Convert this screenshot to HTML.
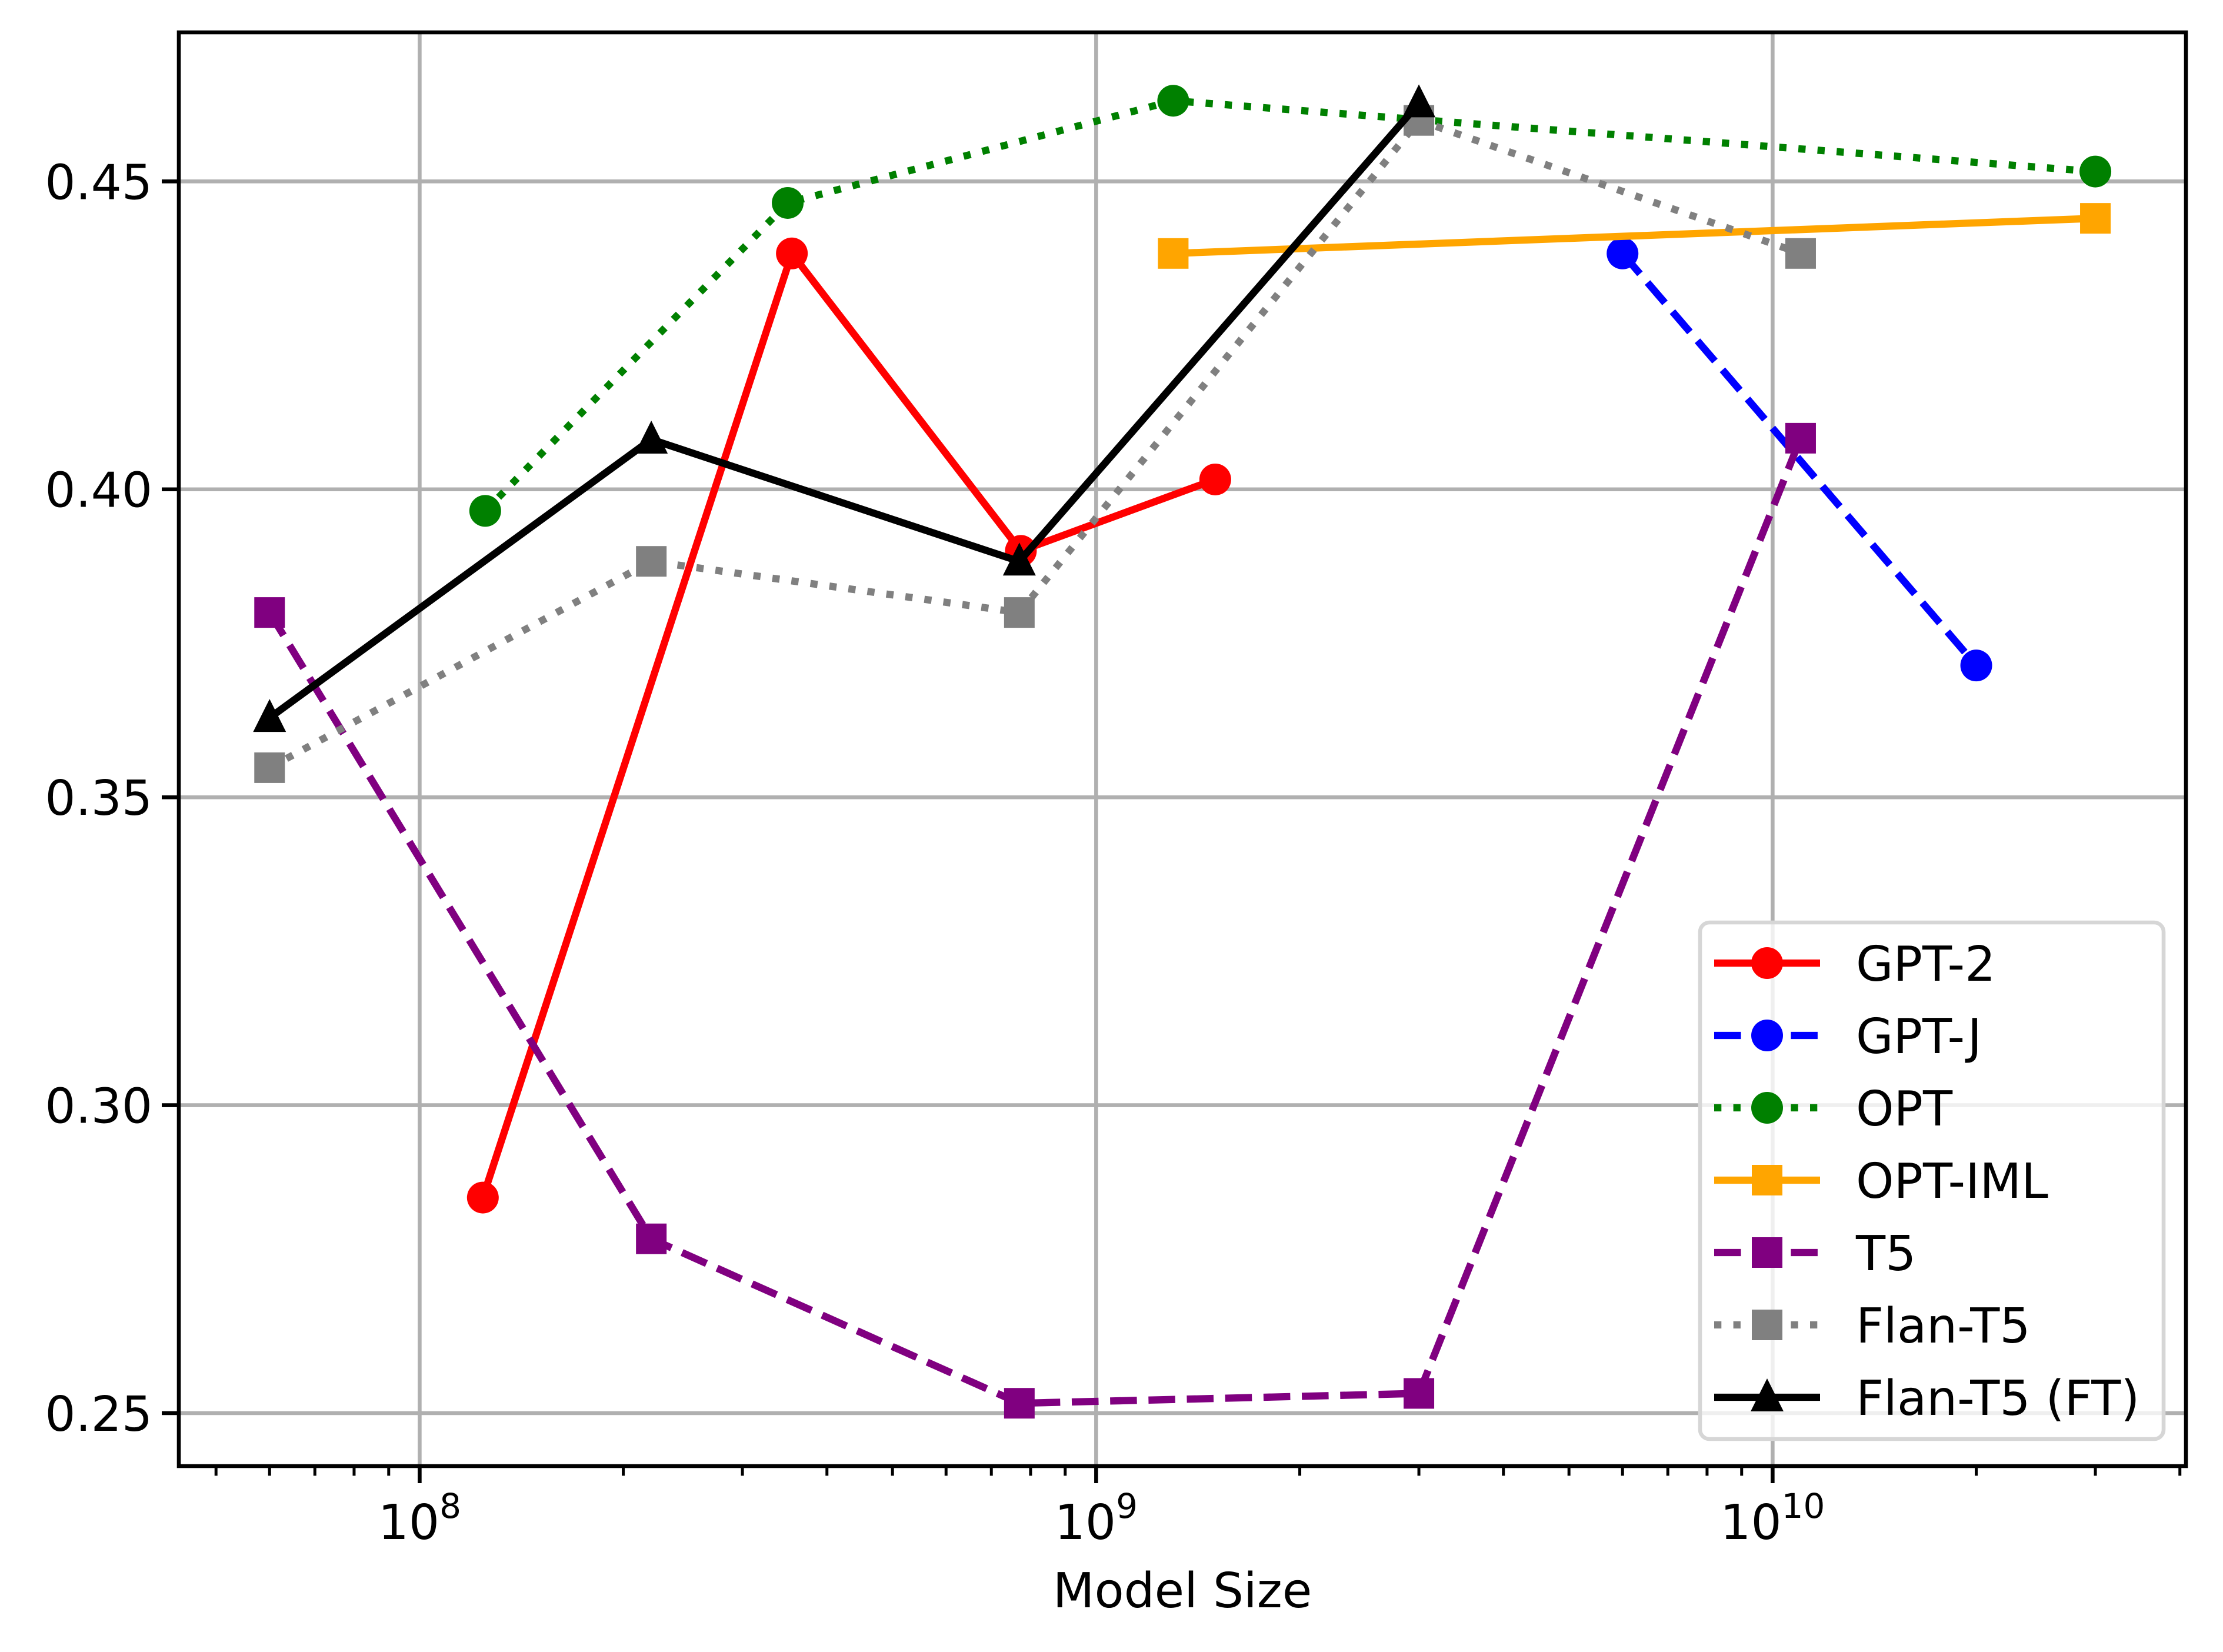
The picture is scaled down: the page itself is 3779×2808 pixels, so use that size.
<!DOCTYPE html>
<html><head><meta charset="utf-8"><style>html,body{margin:0;padding:0;background:#fff}svg{display:block}text{font-family:"DejaVu Sans","Liberation Sans",sans-serif}</style></head>
<body>
<svg id="chart" width="3779" height="2808" viewBox="0 0 3779 2808" xmlns="http://www.w3.org/2000/svg">
<rect width="3779" height="2808" fill="#fff"/>
<g id="grid"></g>
<g id="series"></g>
<g id="axes"></g>
<g id="legend"></g>
</svg>
<script>
const xMajorExps = [8, 9, 10];
const yTicks = [0.25, 0.30, 0.35, 0.40, 0.45];
const yTickLabels = ["0.25", "0.30", "0.35", "0.40", "0.45"];
const seriesNames = ["GPT-2", "GPT-J", "OPT", "OPT-IML", "T5", "Flan-T5", "Flan-T5 (FT)"];
const gpt2X = [124e6, 355e6, 774e6, 1.5e9];
const gpt2Y = [0.285, 0.4383, 0.390, 0.4016];
const gptjX = [6e9, 20e9];
const gptjY = [0.4383, 0.3714];
const optX = [125e6, 350e6, 1.3e9, 30e9];
const optY = [0.3965, 0.4465, 0.4631, 0.4516];
const optimlX = [1.3e9, 30e9];
const optimlY = [0.4383, 0.444];
const t5X = [60e6, 220e6, 770e6, 3e9, 11e9];
const t5Y = [0.380, 0.2783, 0.2516, 0.2532, 0.4083];
const flanX = [60e6, 220e6, 770e6, 3e9, 11e9];
const flanY = [0.3548, 0.3883, 0.380, 0.4599, 0.4383];
const flanftX = [60e6, 220e6, 770e6, 3e9];
const flanftY = [0.3629, 0.4081, 0.3883, 0.4627];

const NS = "http://www.w3.org/2000/svg";
const L = 304, R = 3716, T = 55, B = 2492;
const xMinLog = 7.644, xMaxLog = 10.611, yMin = 0.2414, yMax = 0.4742;
function xs(v){ return L + (Math.log10(v) - xMinLog) / (xMaxLog - xMinLog) * (R - L); }
function ys(v){ return B - (v - yMin) / (yMax - yMin) * (B - T); }
function mk(tag, attrs, parent){ const e = document.createElementNS(NS, tag); for (const k in attrs) e.setAttribute(k, attrs[k]); parent.appendChild(e); return e; }

const grid = document.getElementById('grid');
const axes = document.getElementById('axes');
const seriesG = document.getElementById('series');
const legend = document.getElementById('legend');

xMajorExps.forEach(e => {
  const x = xs(Math.pow(10, e));
  const g = mk('line', {x1:x, x2:x, y1:T, y2:B, stroke:'#b0b0b0', 'stroke-width':6.6}, grid);
  
  
});
yTicks.forEach(v => {
  const y = ys(v);
  const g = mk('line', {x1:L, x2:R, y1:y, y2:y, stroke:'#b0b0b0', 'stroke-width':6.6}, grid);
  
  
});

const styles = [
  {x:gpt2X, y:gpt2Y, c:'#ff0000', dash:'', m:'o'},
  {x:gptjX, y:gptjY, c:'#0000ff', dash:'45.5 19.7', m:'o'},
  {x:optX, y:optY, c:'#008000', dash:'12.3 20.3', m:'o'},
  {x:optimlX, y:optimlY, c:'#ffa500', dash:'', m:'s'},
  {x:t5X, y:t5Y, c:'#800080', dash:'45.5 19.7', m:'s'},
  {x:flanX, y:flanY, c:'#808080', dash:'12.3 20.3', m:'s'},
  {x:flanftX, y:flanftY, c:'#000000', dash:'', m:'^'}
];
function marker(type, cx, cy, c, parent){
  let e;
  if (type === 'o') e = mk('circle', {cx:cx, cy:cy, r:27, fill:c}, parent);
  else if (type === 's') e = mk('rect', {x:cx-26, y:cy-26, width:52, height:52, fill:c}, parent);
  else e = mk('polygon', {points:`${cx},${cy-32} ${cx+28},${cy+24} ${cx-28},${cy+24}`, fill:c}, parent);
  return e;
}
styles.forEach((s, i) => {
  const g = mk('g', {}, seriesG);
  
  
  const pts = s.x.map((v, j) => xs(v).toFixed(1) + ',' + ys(s.y[j]).toFixed(1)).join(' ');
  const pl = mk('polyline', {points:pts, fill:'none', stroke:s.c, 'stroke-width':12.3, 'stroke-dasharray':s.dash || 'none', 'stroke-linejoin':'round'}, g);
  
  
  s.x.forEach((v, j) => {
    const m = marker(s.m, xs(v), ys(s.y[j]), s.c, g);
    
    
  });
});

const frame = mk('rect', {x:L, y:T, width:R-L, height:B-T, fill:'none', stroke:'#000', 'stroke-width':6.6}, axes);



for (let e = 7; e <= 10; e++) {
  for (let k = 1; k <= 9; k++) {
    const lv = e + Math.log10(k);
    if (lv < xMinLog || lv > xMaxLog) continue;
    const x = xs(Math.pow(10, lv));
    const len = k === 1 ? 29 : 16.4;
    const t = mk('line', {x1:x, x2:x, y1:B, y2:B+len, stroke:'#000', 'stroke-width': k === 1 ? 6.6 : 5}, axes);
    
    
  }
}
xMajorExps.forEach(e => {
  const x = xs(Math.pow(10, e));
  const t = mk('text', {x:x, y:2616, 'font-size':82, 'text-anchor':'middle'}, axes);
  
  
  const a = mk('tspan', {}, t); a.textContent = '10';
  const b = mk('tspan', {dy:-36, 'font-size':58}, t); b.textContent = String(e);
});
yTicks.forEach((v, i) => {
  const y = ys(v);
  const t = mk('line', {x1:L-29, x2:L, y1:y, y2:y, stroke:'#000', 'stroke-width':6.6}, axes);
  
  
  const lab = mk('text', {x:L-45, y:y+30, 'font-size':82, 'text-anchor':'end'}, axes);
  lab.textContent = yTickLabels[i];
  
  
});
const xt = mk('text', {x:(L+R)/2, y:2732, 'font-size':82, 'text-anchor':'middle'}, axes);
xt.textContent = 'Model Size';



const box = mk('rect', {x:2890, y:1568, width:788, height:878, rx:16, fill:'#fff', 'fill-opacity':0.8, stroke:'#d6d6d6', 'stroke-width':6.6}, legend);


styles.forEach((s, i) => {
  const y = 1637 + i * 123;
  const g = mk('g', {}, legend);
  
  
  const ln = mk('line', {x1:2914, x2:3094, y1:y, y2:y, stroke:s.c, 'stroke-width':12.3, 'stroke-dasharray':s.dash || 'none'}, g);
  
  
  const m = marker(s.m, 3004, y, s.c, g);
  
  
  const t = mk('text', {x:3155, y:y+30, 'font-size':82}, g);
  t.textContent = seriesNames[i];
  
  
});
</script>
</body></html>
